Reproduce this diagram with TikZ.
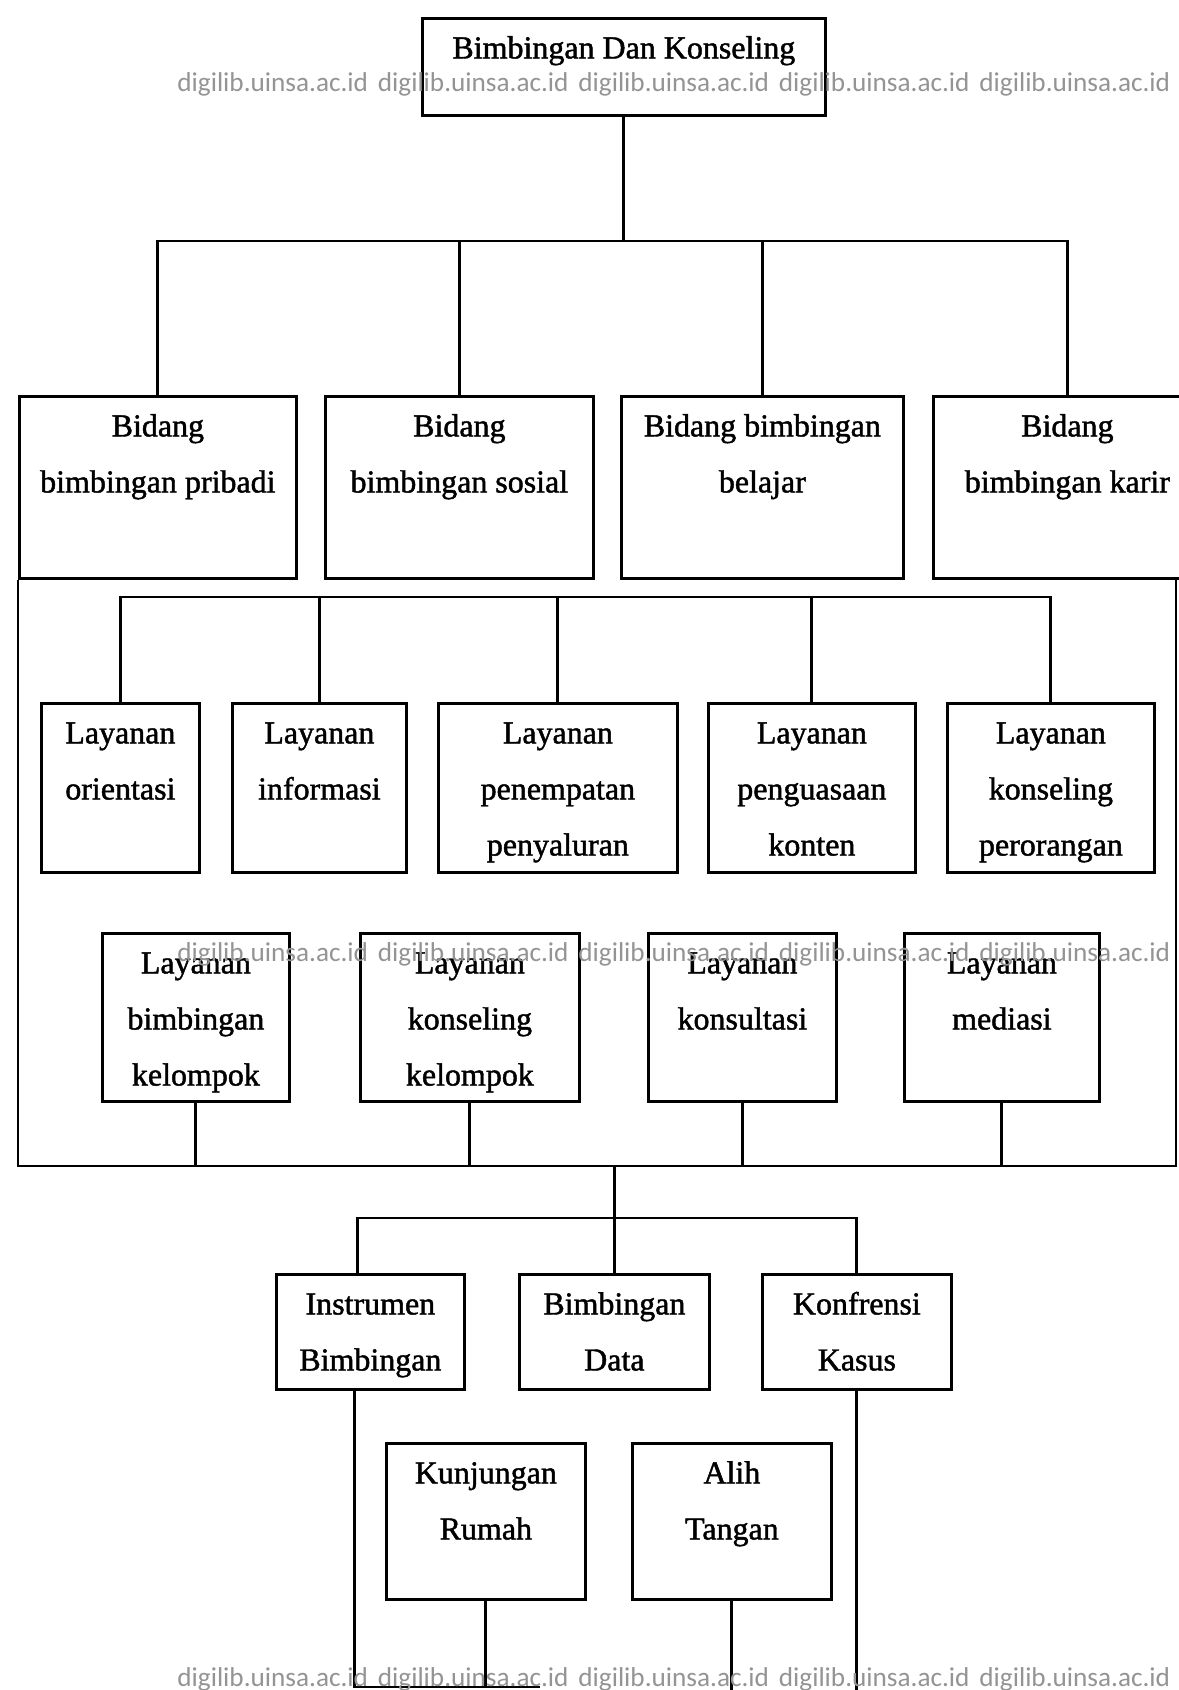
\documentclass[tikz,border=0pt]{standalone}
\usepackage{fontspec}
\usepackage{tikz}
\newfontfamily\isifont{Liberation Serif}[FakeBold=1.4]
\newfontfamily\wmfont{Carlito}
% box content: width, height, lines (text hangs from the top)
\newcommand{\isi}[3]{\parbox[c][#2][t]{#1}{\centering\rule{0pt}{0.8cm}#3}}
\tikzstyle{every node}=[font=\isifont\fontsize{18.2pt}{31.9pt}\selectfont]
\tikzstyle{kotak}=[draw,
                   line width=1.6pt,
                   inner sep=0pt,
                   anchor=north west
                   ]
\tikzstyle{watermark}=[font=\wmfont\fontsize{15.5pt}{18pt}\selectfont,
                       text=black!42,
                       inner sep=0pt,
                       anchor=west]

\begin{document}
\begin{tikzpicture}[x=0.02cm,y=-0.02cm,line width=1.6pt]
\useasboundingbox (0,0) rectangle (1178,1690);
\fill[white] (0,0) rectangle (1178,1690);
% top
\node (Top) [kotak] at (421,17) {\isi{8.06cm}{1.94cm}{Bimbingan Dan Konseling}};
% bidang
\node (B_1) [kotak] at (18,395)  {\isi{5.54cm}{3.64cm}{Bidang\\bimbingan pribadi}};
\node (B_2) [kotak] at (324,395) {\isi{5.36cm}{3.64cm}{Bidang\\bimbingan sosial}};
\node (B_3) [kotak] at (620,395) {\isi{5.64cm}{3.64cm}{Bidang bimbingan\\belajar}};
\node (B_4) [kotak] at (932,395) {\isi{5.36cm}{3.64cm}{Bidang\\bimbingan karir}};
% layanan
\node (L_1) [kotak] at (40,702)  {\isi{3.16cm}{3.38cm}{Layanan\\orientasi}};
\node (L_2) [kotak] at (231,702) {\isi{3.48cm}{3.38cm}{Layanan\\informasi}};
\node (L_3) [kotak] at (437,702) {\isi{4.78cm}{3.38cm}{Layanan\\penempatan\\penyaluran}};
\node (L_4) [kotak] at (707,702) {\isi{4.14cm}{3.38cm}{Layanan\\penguasaan\\konten}};
\node (L_5) [kotak] at (946,702) {\isi{4.14cm}{3.38cm}{Layanan\\konseling\\perorangan}};
\node (M_1) [kotak] at (101,932) {\isi{3.74cm}{3.36cm}{Layanan\\bimbingan\\kelompok}};
\node (M_2) [kotak] at (359,932) {\isi{4.38cm}{3.36cm}{Layanan\\konseling\\kelompok}};
\node (M_3) [kotak] at (647,932) {\isi{3.76cm}{3.36cm}{Layanan\\konsultasi}};
\node (M_4) [kotak] at (903,932) {\isi{3.90cm}{3.36cm}{Layanan\\mediasi}};
% pendukung
\node (I_1) [kotak] at (275,1273) {\isi{3.76cm}{2.30cm}{Instrumen\\Bimbingan}};
\node (I_2) [kotak] at (518,1273) {\isi{3.80cm}{2.30cm}{Bimbingan\\Data}};
\node (I_3) [kotak] at (761,1273) {\isi{3.78cm}{2.30cm}{Konfrensi\\Kasus}};
\node (K_1) [kotak] at (385,1442) {\isi{3.98cm}{3.12cm}{Kunjungan\\Rumah}};
\node (K_2) [kotak] at (631,1442) {\isi{3.98cm}{3.12cm}{Alih\\Tangan}};

\coordinate (P_0) at (0,241);
\coordinate (P_1) at (0,597);
\coordinate (F_1) at (18,1166);
\coordinate (F_2) at (1176,1166);
\coordinate (P_2) at (611,1218);
\coordinate (E_0) at (540,1687);
\coordinate (E_1) at (0,1700);

\draw (Top.south) -- (Top.south |- P_0);
\draw (B_1.north) |- (P_0 -| B_4.north) -- (B_4.north);
\draw (B_2.north) -- (B_2.north |- P_0);
\draw (B_3.north) -- (B_3.north |- P_0);
\draw (B_1.south west) -- (F_1) -- (F_2) -- (F_2 |- B_4.south);
\draw (L_1.north) |- (P_1 -| L_5.north) -- (L_5.north);
\foreach \n in {2,3,4}
  \draw (L_\n.north) -- (L_\n.north |- P_1);
\foreach \n in {1,...,4}
  \draw (M_\n.south) -- (M_\n.south |- F_1);
\draw (I_2.north) -- (I_2.north |- F_1);
\draw ([xshift=-0.26cm]I_1.north) |- (P_2) -| (I_3.north);
\draw ([xshift=-0.32cm]I_1.south) -- ([xshift=-0.32cm]I_1.south |- E_0) -- (E_0);
\draw (K_1.south) -- (K_1.south |- E_0);
\draw (K_2.south) -- (K_2.south |- E_1);
\draw (I_3.south) -- (I_3.south |- E_1);

% watermark
\foreach \r/\y in {a/84,b/954,c/1679}
  \foreach \i in {0,...,4}
    \node (W_\r\i) [watermark] at ({176+200.5*\i},\y) {digilib.uinsa.ac.id};
\end{tikzpicture}
\end{document}
